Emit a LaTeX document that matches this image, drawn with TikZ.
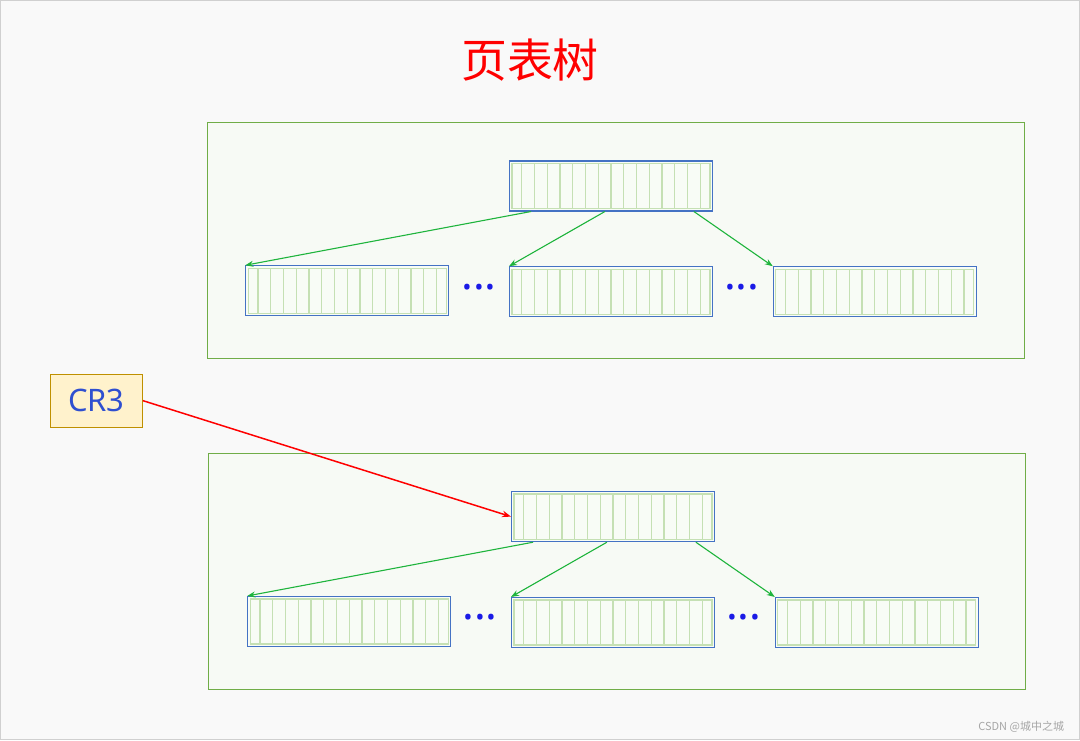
\documentclass[tikz,border=0pt]{standalone}
\usepackage{fontspec}
\setmainfont{Noto Sans}
\newfontfamily\cjk{Noto Sans CJK SC}
\usetikzlibrary{calc,arrows.meta}
\definecolor{bgc}{HTML}{F9F9F9}
\definecolor{framec}{HTML}{D0D0D0}
\definecolor{boxg}{HTML}{70AD47}
\definecolor{boxfill}{HTML}{F7FAF5}
\definecolor{tblue}{HTML}{4472C4}
\definecolor{cellg}{HTML}{C5E0B4}
\definecolor{cellfill}{HTML}{F8FCF6}
\definecolor{arrg}{HTML}{1EB43C}
\definecolor{crfill}{HTML}{FFF2CC}
\definecolor{crdraw}{HTML}{BF9000}
\definecolor{crtext}{HTML}{2F4FD0}
\definecolor{dotc}{HTML}{1A1AE6}
\tikzset{
  region/.style={draw=boxg, line width=0.9pt, fill=boxfill, minimum width=817pt, minimum height=236pt, anchor=north west, inner sep=0pt},
  ptable/.style={draw=tblue, line width=1.2pt, fill=cellfill, minimum width=203pt, minimum height=50pt, anchor=north west, inner sep=0pt},
  garrow/.style={draw=arrg, line width=1.1pt, -{Stealth[length=8pt,width=6pt]}},
  rarrow/.style={draw=red, line width=1.5pt, -{Stealth[length=9pt,width=6.5pt]}},
  dots/.style={text=dotc, font=\bfseries\fontsize{44}{44}\selectfont, inner sep=0pt},
}
\newcommand{\cells}[1]{%
  \foreach \i in {1,...,15}{
    \draw[cellg, line width=1.3pt] ($(#1.north west)!\i/16!(#1.north east)+(0,-3pt)$) -- ($(#1.south west)!\i/16!(#1.south east)+(0,3pt)$);
  }
  \draw[cellg, line width=1.3pt] ($(#1.north west)+(3pt,-3pt)$) rectangle ($(#1.south east)+(-3pt,3pt)$);
}
\begin{document}
\begin{tikzpicture}[x=1pt,y=-1pt]
\path[use as bounding box, fill=bgc, draw=framec, line width=1pt] (0,0) rectangle (1080,740);

\node[text=red, font=\cjk\fontsize{46}{46}\selectfont] (title) at (530,60) {页表树};

% top region
\node[region] (R1) at (207,122) {};
\node[ptable] (t0) at (509,160) {};
\node[ptable] (t1) at (245,265) {};
\node[ptable] (t2) at (509,266) {};
\node[ptable] (t3) at (773,266) {};
\foreach \n in {t0,t1,t2,t3}{\cells{\n}}
\node[dots] (d1) at (479,287) {...};
\node[dots] (d2) at (742,287) {...};
\draw[garrow] ($(t0.south west)!0.108!(t0.south east)$) -- (t1.north west);
\draw[garrow] ($(t0.south west)!0.47!(t0.south east)$) -- (t2.north west);
\draw[garrow] ($(t0.south west)!0.906!(t0.south east)$) -- (t3.north west);

% bottom region
\node[region] (R2) at (208,453) {};
\node[ptable] (b0) at (511,491) {};
\node[ptable] (b1) at (247,596) {};
\node[ptable] (b2) at (511,597) {};
\node[ptable] (b3) at (775,597) {};
\foreach \n in {b0,b1,b2,b3}{\cells{\n}}
\node[dots] (d3) at (480,617) {...};
\node[dots] (d4) at (744,617) {...};
\draw[garrow] ($(b0.south west)!0.108!(b0.south east)$) -- (b1.north west);
\draw[garrow] ($(b0.south west)!0.47!(b0.south east)$) -- (b2.north west);
\draw[garrow] ($(b0.south west)!0.906!(b0.south east)$) -- (b3.north west);

% CR3
\node[draw=crdraw, line width=1pt, fill=crfill, minimum width=92pt, minimum height=53pt, inner sep=0pt, text=crtext, font=\fontsize{31}{31}\selectfont] (cr3) at (96,400.5) {CR3};
\draw[rarrow] (cr3.east) -- (b0.west);

\node[anchor=east, text=gray!70, font=\cjk\fontsize{11}{11}\selectfont] (wm) at (1068,727) {CSDN @城中之城};
\end{tikzpicture}
\end{document}
